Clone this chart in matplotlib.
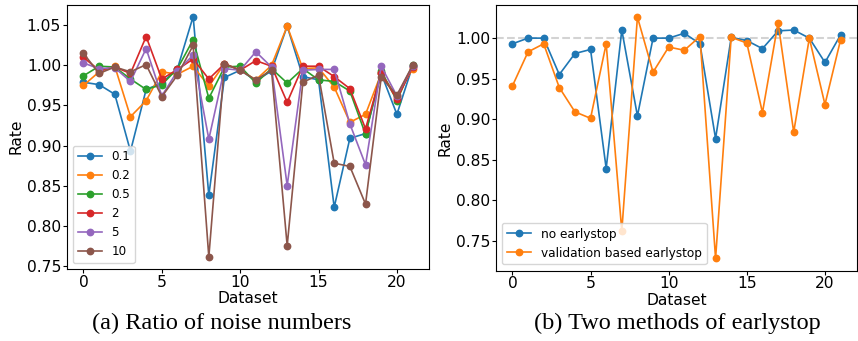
import matplotlib
matplotlib.use("Agg")
import matplotlib.pyplot as plt
import numpy as np

datasets = list(range(22))

noise_labels = ["0.1", "0.2", "0.5", "2", "5", "10"]
r_0_1 = [0.979, 0.976, 0.964, 0.893, 0.970, 0.978, 0.996, 1.061, 0.838, 0.985, 0.994,
         0.981, 0.993, 1.049, 0.986, 0.982, 0.823, 0.909, 0.915, 0.990, 0.939, 0.999]
r_0_2 = [0.975, 0.992, 0.999, 0.936, 0.956, 0.992, 0.989, 0.999, 0.974, 1.002, 0.994,
         0.982, 1.000, 1.049, 0.996, 0.997, 0.973, 0.929, 0.939, 0.990, 0.961, 0.996]
r_0_5 = [0.987, 0.999, 0.998, 0.983, 0.970, 0.976, 0.996, 1.032, 0.959, 0.998, 0.999,
         0.978, 0.996, 0.978, 0.996, 0.982, 0.980, 0.968, 0.914, 0.993, 0.956, 1.000]
r_2 = [1.010, 0.994, 0.998, 0.990, 1.036, 0.983, 0.995, 1.008, 0.983, 1.002, 0.994,
       1.006, 0.999, 0.954, 0.999, 0.999, 0.986, 0.971, 0.921, 0.990, 0.958, 0.998]
r_5 = [1.003, 0.996, 0.997, 0.980, 1.021, 0.962, 0.993, 1.013, 0.908, 0.996, 0.994,
       1.017, 0.998, 0.850, 0.994, 0.995, 0.995, 0.927, 0.876, 0.999, 0.962, 0.999]
r_10 = [1.015, 0.990, 0.998, 0.992, 1.001, 0.961, 0.988, 1.025, 0.761, 1.002, 0.994,
        0.982, 0.994, 0.775, 0.979, 0.988, 0.878, 0.874, 0.827, 0.985, 0.963, 1.000]
noise_series = [r_0_1, r_0_2, r_0_5, r_2, r_5, r_10]

es_labels = ["no earlystop", "validation based earlystop"]
no_es = [0.993, 1.000, 1.000, 0.955, 0.981, 0.986, 0.839, 1.010, 0.904, 1.000, 1.000,
         1.006, 0.993, 0.876, 1.001, 0.997, 0.987, 1.009, 1.010, 1.000, 0.970, 1.004]
val_es = [0.941, 0.983, 0.993, 0.939, 0.909, 0.901, 0.993, 0.762, 1.026, 0.958, 0.989,
          0.985, 1.002, 0.728, 1.001, 0.994, 0.908, 1.019, 0.884, 1.000, 0.918, 0.998]

W, H = 858, 341
fig = plt.figure(figsize=(W / 100, H / 100), dpi=100)

def ax_rect(l, r, t, b):
    return [l / W, 1 - b / H, (r - l) / W, (b - t) / H]

fs = 11.2

def style(ax):
    ax.set_xlabel("Dataset", fontsize=fs, labelpad=1)
    ax.set_ylabel("Rate", fontsize=fs, labelpad=2.2)
    ax.tick_params(labelsize=fs, length=2.6, pad=1.6)
    ax.set_xticks([0, 5, 10, 15, 20])

ax1 = fig.add_axes(ax_rect(67, 429, 4.5, 269))
for s, lab in zip(noise_series, noise_labels):
    ax1.plot(datasets, s, marker="o", markersize=4.6, linewidth=1.2, label=lab)
style(ax1)
ax1.legend(loc="lower left", fontsize=8.6)

ax2 = fig.add_axes(ax_rect(496, 857, 5, 270.5))
ax2.axhline(1.0, color="lightgray", linestyle="--", linewidth=1.5)
ax2.plot(datasets, no_es, marker="o", markersize=4.6, linewidth=1.2, label=es_labels[0])
ax2.plot(datasets, val_es, marker="o", markersize=4.6, linewidth=1.2, label=es_labels[1])
style(ax2)
ax2.legend(loc="lower left", fontsize=8.7)

cap_font = dict(family=["Liberation Serif", "DejaVu Serif"], fontsize=17.5)
fig.text(222 / W, 1 - 323 / H, "(a) Ratio of noise numbers", ha="center", va="center", **cap_font)
fig.text(677 / W, 1 - 323 / H, "(b) Two methods of earlystop", ha="center", va="center", **cap_font)

fig.savefig("out.png", dpi=100)
